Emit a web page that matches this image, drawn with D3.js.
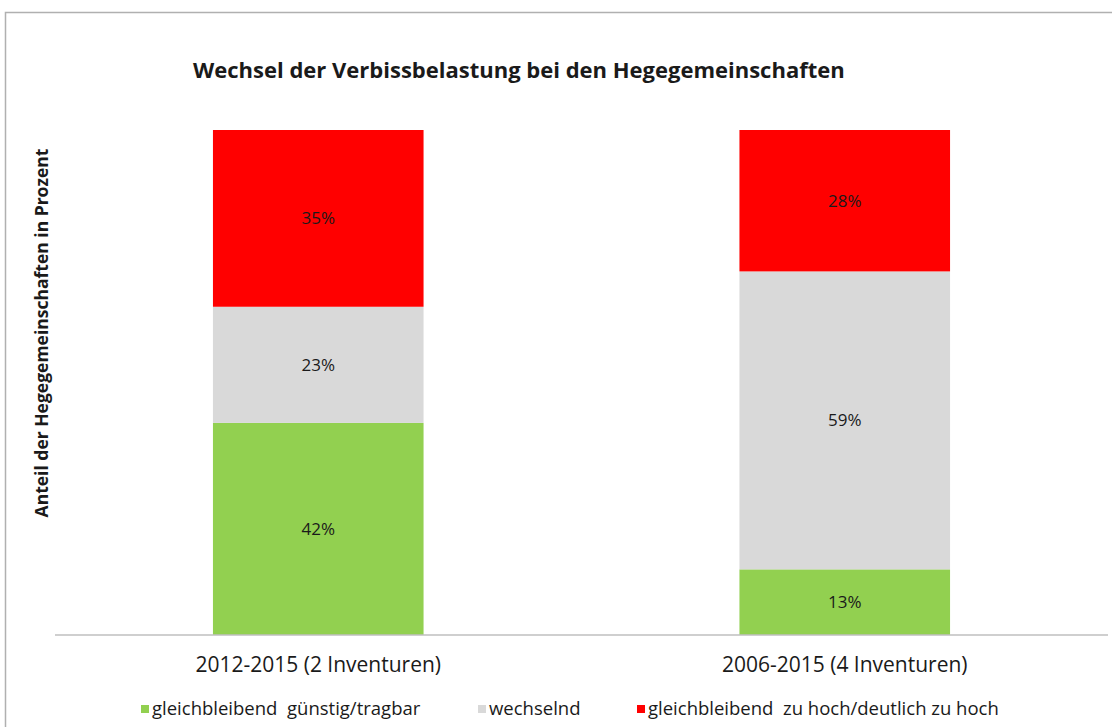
<!DOCTYPE html>
<html>
<head>
<meta charset="utf-8">
<script src="https://cdn.jsdelivr.net/npm/d3@7"></script>
<style>
  body { margin: 0; background: #fff; }
  text { font-family: "Open Sans", sans-serif; fill: #1a1a1a; }
</style>
</head>
<body>
<div class="chart"></div>
<script>
var categories = ['2012-2015 (2 Inventuren)', '2006-2015 (4 Inventuren)'];
var seriesNames = ['gleichbleibend  günstig/tragbar', 'wechselnd', 'gleichbleibend  zu hoch/deutlich zu hoch'];
var seriesKeys = ['guenstig', 'wechselnd', 'hoch'];
var guenstig = [42, 13];
var wechselnd = [23, 59];
var hoch = [35, 28];
var colors = ['#92d050', '#d9d9d9', '#ff0000'];

var W = 1112, H = 727;
var rows = categories.map((c, i) => ({ cat: c, guenstig: guenstig[i], wechselnd: wechselnd[i], hoch: hoch[i] }));

var svg = d3.select('.chart')
  .append('svg')
    .attr('width', W)
    .attr('height', H);

// frame of the picture
svg.append('path')
  .attr('d', 'M5.5,' + H + 'V12.5H' + W)
  .attr('fill', 'none')
  .attr('stroke', '#b0b0b0')
  .attr('stroke-width', 1.5);

var x = d3.scaleBand()
  .domain(categories)
  .range([55, 1108])
  .paddingInner(0.6)
  .paddingOuter(0.3);

var y = d3.scaleLinear()
  .domain([0, 100])
  .range([635, 130]);

var stack = d3.stack().keys(seriesKeys)(rows);

var layer = svg.selectAll('g.layer')
  .data(stack)
  .enter()
    .append('g')
    .attr('class', 'layer')
    .attr('fill', (d, i) => colors[i]);

layer.selectAll('rect')
  .data(d => d)
  .enter()
    .append('rect')
    .attr('x', d => x(d.data.cat))
    .attr('width', x.bandwidth())
    .attr('y', d => y(d[1]))
    .attr('height', d => y(d[0]) - y(d[1]));

layer.selectAll('text')
  .data(d => d)
  .enter()
    .append('text')
    .attr('x', d => x(d.data.cat) + x.bandwidth() / 2)
    .attr('y', d => (y(d[0]) + y(d[1])) / 2)
    .attr('dy', '0.35em')
    .attr('text-anchor', 'middle')
    .style('font-size', '17px')
    .text(d => (d[1] - d[0]) + '%');

// x axis
var xAxis = svg.append('g')
  .attr('transform', 'translate(0,635)')
  .call(d3.axisBottom(x).tickSize(0).tickPadding(22));
xAxis.select('.domain').attr('stroke', '#bfbfbf').attr('stroke-width', 1.5)
  .attr('d', 'M55,0H1108');
xAxis.selectAll('text')
  .style('font-size', '21px')
  .style('font-family', '"Open Sans", sans-serif')
  .attr('fill', '#1a1a1a');

// title
svg.append('text')
  .attr('x', 193)
  .attr('y', 78)
  .style('font-size', '22px')
  .style('font-weight', 'bold')
  .text('Wechsel der Verbissbelastung bei den Hegegemeinschaften');

// y axis title
svg.append('text')
  .attr('transform', 'translate(48,333) rotate(-90)')
  .attr('text-anchor', 'middle')
  .style('font-size', '17.5px')
  .style('font-weight', 'bold')
  .text('Anteil der Hegegemeinschaften in Prozent');

// legend
var legendX = [141, 478, 637];
var legend = svg.selectAll('g.legend')
  .data(seriesNames)
  .enter()
    .append('g')
    .attr('class', 'legend')
    .attr('transform', (d, i) => 'translate(' + legendX[i] + ',709)');

legend.append('rect')
  .attr('x', 0)
  .attr('y', -4)
  .attr('width', 8)
  .attr('height', 8)
  .attr('fill', (d, i) => colors[i]);

legend.append('text')
  .attr('x', 11)
  .attr('dy', '0.35em')
  .style('font-size', '18.5px')
  .style('white-space', 'pre')
  .text(d => d);
</script>
</body>
</html>
